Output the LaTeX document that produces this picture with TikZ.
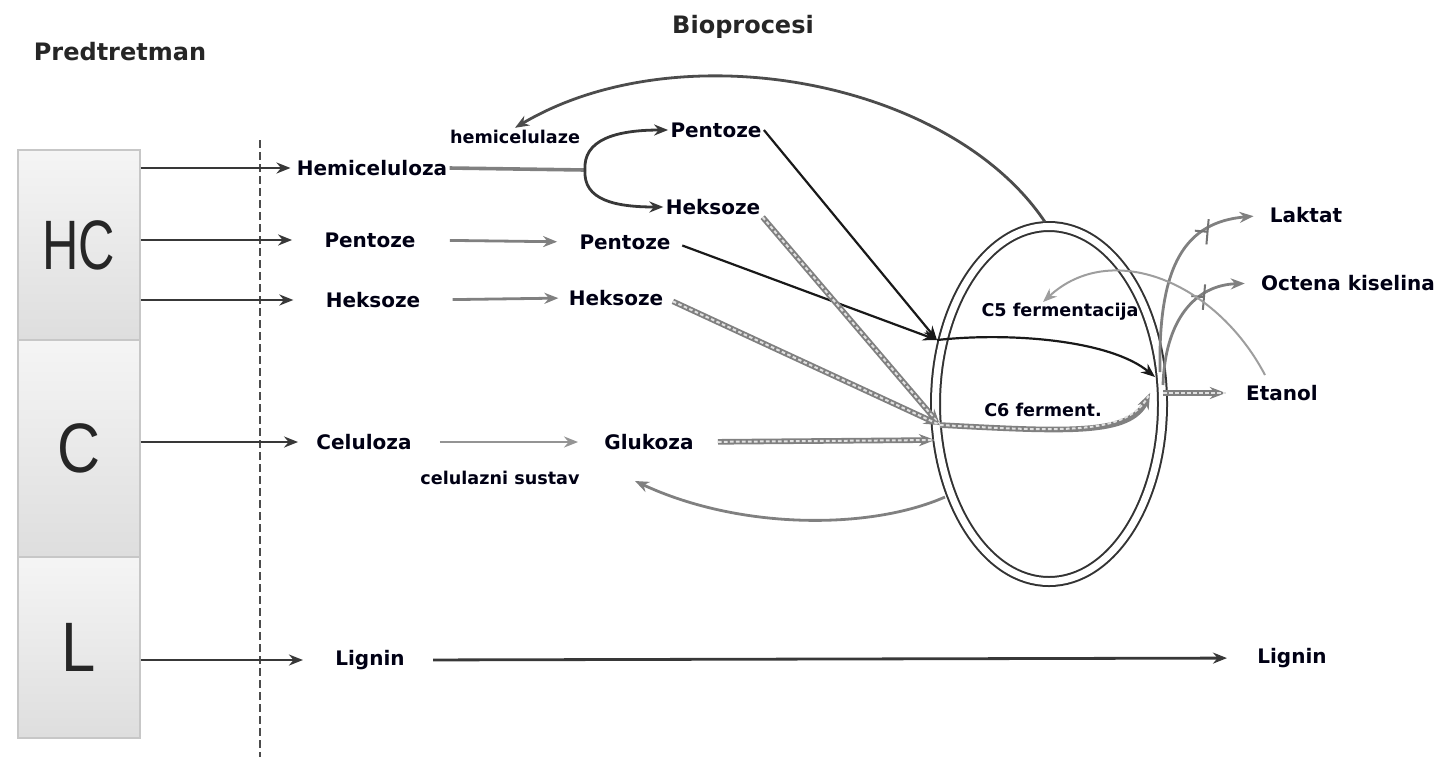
\documentclass[tikz,border=0pt]{standalone}
\usepackage{fontspec}
\setmainfont{DejaVu Sans}
\newfontfamily\boxfont{Liberation Sans}
\usetikzlibrary{arrows.meta,shapes.geometric,shapes.misc}

\begin{document}
\begin{tikzpicture}[x=0.5pt,y=-0.5pt,
    lbl/.style={font=\bfseries\fontsize{10}{12}\selectfont,text=black!92!blue,inner sep=1pt},
    enz/.style={font=\bfseries\fontsize{8.8}{10}\selectfont,text=black!92!blue,inner sep=1pt},
    head/.style={font=\bfseries\fontsize{12}{14}\selectfont,text=black!85,inner sep=0pt},
    part/.style={draw=black!22,line width=0.6pt,top color=black!4,bottom color=black!13,
      minimum width=61pt,inner sep=0pt,font=\boxfont\fontsize{35}{35}\selectfont,text=black!85},
    arr/.style={draw=black!78,line width=1.4pt,-{Stealth[length=7pt,width=5.5pt]}},
    garr/.style={arr,draw=black!50},
    blk/.style={arr,draw=black!90,line width=1.1pt},
    dots/.style={draw=black!50,line width=2.8pt,-{Stealth[length=8pt,width=6pt]},
      postaction={draw=black!12,-,line width=1pt,dash pattern=on 1.8pt off 1.2pt}},
    xmark/.style={draw=black!55,cross out,line width=1pt,minimum size=8pt,inner sep=0pt,rotate=40}
  ]
\useasboundingbox (0,0) rectangle (1443,757);

% lijevi stupac
\node[part,minimum height=95pt]    (hc) at (79,245)   {\scalebox{0.72}[1]{HC}};
\node[part,minimum height=108.5pt] (c)  at (79,448.5) {\scalebox{0.85}[1]{C}};
\node[part,minimum height=90.5pt]  (l)  at (79,647.5) {\scalebox{0.88}[1]{L}};

\coordinate (sepT) at (260,140);
\coordinate (sepB) at (260,757);
\draw[black!70,line width=0.9pt,dash pattern=on 4pt off 2pt] (sepT) -- (sepB);

\node[head] (pred) at (120,52) {Predtretman};
\node[head] (bio)  at (743,27) {Bioprocesi};

% tvari
\node[lbl] (hemi) at (372,168)  {Hemiceluloza};
\node[enz] (hemz) at (515,137)  {hemicelulaze};
\node[lbl] (penB) at (716,130)  {Pentoze};
\node[lbl] (hekB) at (713,207)  {Heksoze};
\node[lbl] (penA) at (370,240)  {Pentoze};
\node[lbl] (penC) at (625,242)  {Pentoze};
\node[lbl] (hekA) at (373,300)  {Heksoze};
\node[lbl] (hekC) at (616,298)  {Heksoze};
\node[lbl] (cel)  at (364,442)  {Celuloza};
\node[lbl] (glu)  at (649,442)  {Glukoza};
\node[enz] (csz)  at (500,478)  {celulazni sustav};
\node[lbl] (ligA) at (370,660)  {Lignin};
\node[lbl] (ligB) at (1292,658) {Lignin};
\node[lbl] (lak)  at (1306,215) {Laktat};
\node[lbl] (oct)  at (1348,283) {Octena kiselina};
\node[lbl] (eta)  at (1282,393) {Etanol};

% fermentor
\node[draw=black!80,line width=1pt,double=white,double distance=3.5pt,ellipse,
      minimum width=113.5pt,minimum height=177.5pt,inner sep=0pt] (ferm) at (1049,404) {};
\node[enz] (c5) at (1060,312) {C5 fermentacija};
\node[enz] (c6) at (1043,410) {C6 ferment.};

\coordinate (br)    at (585,170);
\coordinate (c5in)  at (937,340);
\coordinate (c6in)  at (940,425);
\coordinate (gluin) at (935,440);
\coordinate (c5out) at (1155,377);
\coordinate (c6out) at (1150,393);
\coordinate (etst)  at (1163,393);
\coordinate (lakst) at (1160,372);
\coordinate (octst) at (1163,385);
\coordinate (acst)  at (1265,375);
\coordinate (acin)  at (1043,302);
\coordinate (ftop)  at (1045,222);
\coordinate (fbot)  at (945,497);
\coordinate (cszin) at (635,481);

% predtretman
\foreach \u/\v/\gap in {hc/hemi/2pt, hc/penA/15pt, hc/hekA/15pt, c/cel/8pt, l/ligA/15pt}
{ \draw[arr,shorten >=\gap] (\u.east |- \v.west) -- (\v.west);
}

\draw[garr,-,line width=1.8pt] (hemi.east) -- (br);
\draw[arr] (br) .. controls (583,140) and (615,130) .. (penB.west);
\draw[arr] (br) .. controls (583,200) and (615,207) .. (hekB.west);
\draw[garr,shorten <=16pt,shorten >=10pt] (penA.east) -- (penC.west);
\draw[garr,shorten <=15pt,shorten >=4pt] (hekA.east) -- (hekC.west);
\draw[garr,draw=black!42,shorten <=13pt,shorten >=12pt] (cel.east) -- (glu.west);
\draw[arr,shorten <=13pt,shorten >=14pt] (ligA.east) -- (ligB.west);

% ulaz u fermentor
\draw[blk] (penB.east) -- (c5in);
\draw[blk,shorten <=5pt] (penC.east) -- (c5in);
\draw[dots] (hekB.south east) -- (c6in);
\draw[dots,shorten <=4pt] (hekC.east) -- (c6in);
\draw[dots,shorten <=11pt] (glu.east) -- (gluin);
\draw[blk] (c5in) .. controls (1010,332) and (1110,340) .. (c5out);
\draw[dots] (c6in) .. controls (1070,432) and (1130,435) .. (c6out);

% produkti
\draw[dots,shorten >=9pt] (etst) -- (eta.west);
\draw[garr,shorten >=7pt] (lakst) .. controls (1158,265) and (1185,222) .. (lak.west)
  node[xmark,pos=0.7] (xl) {};
\draw[garr,shorten >=7pt] (octst) .. controls (1165,320) and (1195,285) .. (oct.west)
  node[xmark,pos=0.65] (xo) {};
\draw[garr,draw=black!38,line width=1pt] (acst) .. controls (1215,280) and (1110,240) .. (acin);

% povrat enzima
\draw[arr,draw=black!70] (ftop) .. controls (950,80) and (680,30) .. (hemz.north);
\draw[garr] (fbot) .. controls (870,530) and (740,530) .. (cszin);
\end{tikzpicture}
\end{document}
